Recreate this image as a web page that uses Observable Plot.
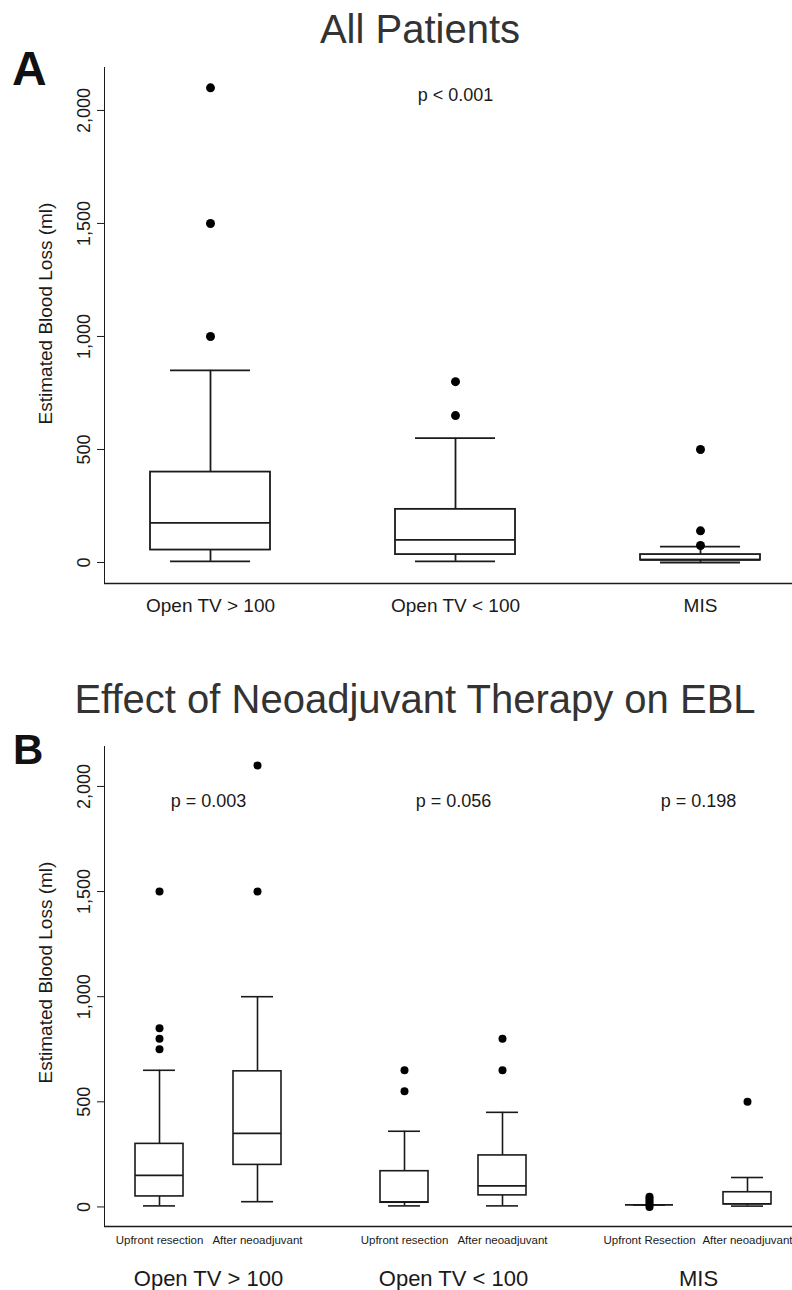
<!DOCTYPE html>
<html><head><meta charset="utf-8">
<script src="https://cdn.jsdelivr.net/npm/d3@7"></script>
<script src="https://cdn.jsdelivr.net/npm/@observablehq/plot@0.6"></script>
<style>
html,body{margin:0;padding:0;background:#fff;}
#wrap{position:relative;width:792px;height:1290px;overflow:hidden;background:#fff;font-family:"Liberation Sans",Arial,Helvetica,sans-serif;color:#222;}
#wrap svg{position:absolute;left:0;}
.t{position:absolute;white-space:nowrap;line-height:1;z-index:5;}
</style></head><body><div id="wrap"></div>
<script>
// ---------- Data: Panel A (All Patients) ----------
const groupsA = ["Open TV > 100", "Open TV < 100", "MIS"];
const loA  = [5, 5, 0];
const q1A  = [55, 35, 10];
const medA = [175, 100, 12];
const q3A  = [400, 235, 35];
const hiA  = [850, 550, 70];
const outliersA = [[1000, 1500, 2100], [650, 800], [75, 140, 500]];
const pA = "p < 0.001";

// ---------- Data: Panel B (Neoadjuvant therapy) ----------
const groupsB = ["Open TV > 100", "Open TV < 100", "MIS"];
const subsB = ["Upfront", "After"];
const subLabelsB = ["Upfront resection", "After neoadjuvant", "Upfront resection", "After neoadjuvant", "Upfront Resection", "After neoadjuvant"];
const loB  = [5, 25, 5, 5, 10, 4];
const q1B  = [50, 200, 20, 55, 10, 12];
const medB = [150, 350, 25, 100, 10, 15];
const q3B  = [300, 645, 170, 245, 10, 70];
const hiB  = [650, 1000, 360, 450, 10, 140];
const outliersB = [[750, 800, 850, 1500], [1500, 2100], [550, 650], [650, 800], [0, 10, 20, 30, 40, 48], [500]];
const pB = ["p = 0.003", "p = 0.056", "p = 0.198"];

const yTicks = [0, 500, 1000, 1500, 2000];
const yLabel = "Estimated Blood Loss (ml)";
const titleA = "All Patients";
const titleB = "Effect of Neoadjuvant Therapy on EBL";

// ---------- Build ----------
const FONT = '"Liberation Sans", Arial, Helvetica, sans-serif';
const INK = "#1a1a1a";
const fmt = d3.format(",");
const yDomain = [-93, 2190];
const wrap = document.getElementById("wrap");

const rowsA = groupsA.map((g, i) => ({group: g, lo: loA[i], q1: q1A[i], med: medA[i], q3: q3A[i], hi: hiA[i]}));
const outA = groupsA.flatMap((g, i) => outliersA[i].map(v => ({group: g, value: v})));

const svgA = Plot.plot({
  width: 839, height: 630,
  marginTop: 67, marginBottom: 47, marginLeft: 104, marginRight: 0,
  style: {maxWidth: "none", fontFamily: FONT, color: INK, background: "transparent", overflow: "visible"},
  x: {domain: groupsA, paddingInner: 0.51, paddingOuter: 0.255, align: 0.368, axis: null},
  y: {domain: yDomain, ticks: yTicks, tickSize: 7, tickFormat: () => "", line: true, label: null},
  marks: [
    Plot.ruleY([yDomain[0]], {stroke: INK, strokeWidth: 1.5}),
    Plot.ruleX(rowsA, {x: "group", y1: "lo", y2: "hi", stroke: INK, strokeWidth: 1.8}),
    Plot.barY(rowsA, {x: "group", y1: "q1", y2: "q3", fill: "white", stroke: INK, strokeWidth: 1.8}),
    Plot.tickY(rowsA, {x: "group", y: "med", stroke: INK, strokeWidth: 1.8}),
    Plot.tickY(rowsA, {x: "group", y: "lo", insetLeft: 20, insetRight: 20, stroke: INK, strokeWidth: 1.8}),
    Plot.tickY(rowsA, {x: "group", y: "hi", insetLeft: 20, insetRight: 20, stroke: INK, strokeWidth: 1.8}),
    Plot.dot(outA, {x: "group", y: "value", r: 4.5, fill: "#000", stroke: "none"}),
    Plot.text(yTicks, {y: d => d, text: d => fmt(d), frameAnchor: "left", rotate: -90, dx: -15, lineAnchor: "bottom", textAnchor: "middle", fontSize: 18, fill: INK}),
    Plot.text([yLabel], {text: d => d, frameAnchor: "left", rotate: -90, dx: -59, dy: -12, textAnchor: "middle", lineAnchor: "middle", fontSize: 19, fill: INK}),
    Plot.text(groupsA, {x: d => d, text: d => d, frameAnchor: "bottom", lineAnchor: "middle", dy: 22, fontSize: 19, fill: INK}),
    Plot.text([{group: groupsA[1], p: pA}], {x: "group", text: "p", frameAnchor: "top", lineAnchor: "middle", dy: 28, fontSize: 18, fill: INK})
  ]
});
svgA.style.top = "0px";
wrap.appendChild(svgA);

const rowsB = groupsB.flatMap((g, i) => subsB.map((s, j) => {
  const k = i * 2 + j;
  return {group: g, sub: s, label: subLabelsB[k], lo: loB[k], q1: q1B[k], med: medB[k], q3: q3B[k], hi: hiB[k]};
}));
const outB = rowsB.flatMap((r, k) => outliersB[k].map(v => ({group: r.group, sub: r.sub, value: v})));
const pRows = groupsB.map((g, i) => ({group: g, p: pB[i]}));

const svgB = Plot.plot({
  width: 839, height: 590,
  marginTop: 46, marginBottom: 64, marginLeft: 104, marginRight: 0,
  style: {maxWidth: "none", fontFamily: FONT, color: INK, background: "transparent", overflow: "visible"},
  fx: {domain: groupsB, padding: 0, axis: null, label: null},
  x: {domain: subsB, paddingInner: 0.51, paddingOuter: 0.505, align: 0.313, axis: null},
  y: {domain: yDomain, ticks: yTicks, tickSize: 7, tickFormat: () => "", line: true, label: null},
  marks: [
    Plot.ruleY([yDomain[0]], {stroke: INK, strokeWidth: 1.5}),
    Plot.ruleX(rowsB, {fx: "group", x: "sub", y1: "lo", y2: "hi", stroke: INK, strokeWidth: 1.6}),
    Plot.barY(rowsB, {fx: "group", x: "sub", y1: "q1", y2: "q3", fill: "white", stroke: INK, strokeWidth: 1.6}),
    Plot.tickY(rowsB, {fx: "group", x: "sub", y: "med", stroke: INK, strokeWidth: 1.6}),
    Plot.tickY(rowsB, {fx: "group", x: "sub", y: "lo", insetLeft: 8, insetRight: 8, stroke: INK, strokeWidth: 1.6}),
    Plot.tickY(rowsB, {fx: "group", x: "sub", y: "hi", insetLeft: 8, insetRight: 8, stroke: INK, strokeWidth: 1.6}),
    Plot.dot(outB, {fx: "group", x: "sub", y: "value", r: 4, fill: "#000", stroke: "none"}),
    Plot.text(yTicks, {fx: () => groupsB[0], y: d => d, text: d => fmt(d), frameAnchor: "left", rotate: -90, dx: -15, lineAnchor: "bottom", textAnchor: "middle", fontSize: 18, fill: INK}),
    Plot.text([yLabel], {fx: () => groupsB[0], text: d => d, frameAnchor: "left", rotate: -90, dx: -59, dy: -14, textAnchor: "middle", lineAnchor: "middle", fontSize: 19, fill: INK}),
    Plot.text(rowsB, {fx: "group", x: "sub", text: "label", frameAnchor: "bottom", lineAnchor: "middle", dy: 14, fontSize: 11.5, fill: INK}),
    Plot.text(groupsB, {fx: d => d, text: d => d, frameAnchor: "bottom", lineAnchor: "middle", dx: -18.5, dy: 52, fontSize: 22, fill: INK}),
    Plot.text(pRows, {fx: "group", text: "p", frameAnchor: "top", lineAnchor: "middle", dx: -18.5, dy: 55, fontSize: 18, fill: INK})
  ]
});
svgB.style.top = "700px";
wrap.appendChild(svgB);

// ---------- Titles and panel letters ----------
function addText(txt, css) {
  const d = document.createElement("div");
  d.className = "t";
  d.textContent = txt;
  Object.assign(d.style, css);
  wrap.appendChild(d);
}
addText(titleA, {left: "0px", width: "840px", textAlign: "center", top: "9px", fontSize: "40px", color: "#333"});
addText(titleB, {left: "0px", width: "830px", textAlign: "center", top: "679px", fontSize: "40px", color: "#333"});
addText("A", {left: "12px", top: "45px", fontSize: "48px", fontWeight: "bold", color: "#111"});
addText("B", {left: "13px", top: "729px", fontSize: "42px", fontWeight: "bold", color: "#111"});
</script>
</body></html>
